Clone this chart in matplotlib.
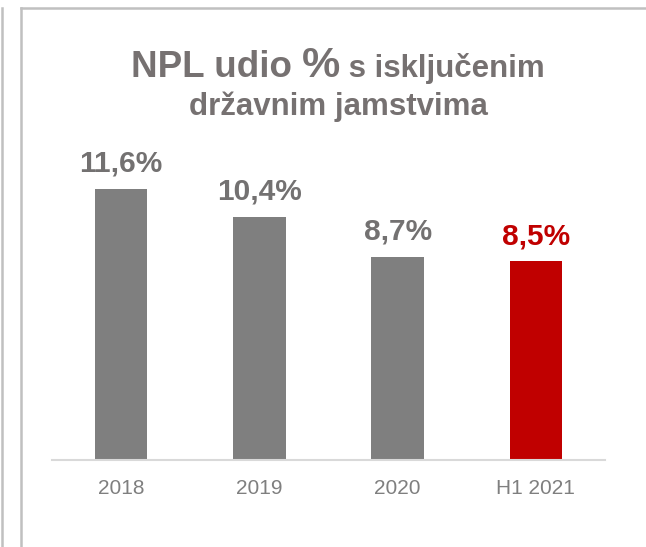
import matplotlib.pyplot as plt
from matplotlib.lines import Line2D

categories = ['2018', '2019', '2020', 'H1 2021']
values = [11.6, 10.4, 8.7, 8.5]
labels = ['11,6%', '10,4%', '8,7%', '8,5%']
colors = ['#7f7f7f', '#7f7f7f', '#7f7f7f', '#c00000']
label_colors = ['#737171', '#737171', '#737171', '#c00000']

plt.rcParams['font.family'] = ['Liberation Sans', 'DejaVu Sans']

W, H = 646, 547
fig = plt.figure(figsize=(W / 100, H / 100), dpi=100)


def fx(px):
    return px / W


def fy(py):
    return 1 - py / H


# frame lines around the panel
fig.add_artist(Line2D([fx(2), fx(2)], [fy(8), fy(547)], color='#c0c0c0', lw=1.8))
fig.add_artist(Line2D([fx(21), fx(21)], [fy(8), fy(547)], color='#c0c0c0', lw=1.8))
fig.add_artist(Line2D([fx(21), fx(646)], [fy(8), fy(8)], color='#c0c0c0', lw=1.8))

ax = fig.add_axes([fx(52), fy(460), fx(605) - fx(52), fy(140) - fy(460)])
x = range(len(categories))
ax.bar(x, values, width=0.38, color=colors, zorder=2)
ax.set_xlim(-0.5, 3.5)
ax.set_ylim(0, 320 / 23.36)

for i, (v, lab) in enumerate(zip(values, labels)):
    ax.annotate(lab, (i, v), xytext=(0, 8), textcoords='offset points',
                ha='center', va='bottom', fontsize=21.5, fontweight='bold',
                color=label_colors[i])

ax.set_xticks(list(x))
ax.set_xticklabels(categories, fontsize=15, color='#7f7f7f')
ax.tick_params(axis='x', length=0, pad=14)
ax.set_yticks([])
for s in ['top', 'right', 'left']:
    ax.spines[s].set_visible(False)
ax.spines['bottom'].set_color('#d9d9d9')
ax.spines['bottom'].set_linewidth(1.5)

# title: mixed sizes on the first line
title_color = '#767171'
parts = [('NPL udio ', 26.5), ('%', 31), (' s isključenim', 22.5)]
texts = [fig.text(0, fy(77), s, fontsize=fs, fontweight='bold',
                  color=title_color, ha='left', va='baseline')
         for s, fs in parts]
fig.canvas.draw()
r = fig.canvas.get_renderer()
widths = [t.get_window_extent(r).width for t in texts]
xpos = 338 - sum(widths) / 2
for t, w in zip(texts, widths):
    t.set_x(fx(xpos))
    xpos += w
fig.text(fx(338), fy(115), 'državnim jamstvima', fontsize=22.5, fontweight='bold',
         color=title_color, ha='center', va='baseline')

fig.savefig('out.png', dpi=100)
